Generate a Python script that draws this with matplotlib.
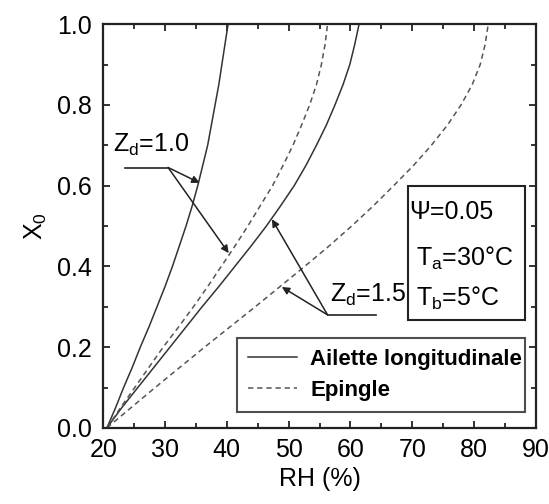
import matplotlib
matplotlib.use('Agg')
import matplotlib.pyplot as plt
from matplotlib.patches import Rectangle
from matplotlib.ticker import MultipleLocator

# data (X0 every 0.05)
X0 = [0.0, 0.05, 0.1, 0.15, 0.2, 0.25, 0.3, 0.35, 0.4, 0.45, 0.5,
      0.55, 0.6, 0.65, 0.7, 0.75, 0.8, 0.85, 0.9, 0.95, 1.0]

# Ailette longitudinale (solid)
rh_ail_z10 = [20.6, 22.0, 23.3, 24.7, 26.0, 27.4, 28.7, 30.0, 31.2, 32.3, 33.4,
              34.4, 35.3, 36.1, 36.9, 37.5, 38.1, 38.7, 39.2, 39.7, 40.2]
rh_ail_z15 = [20.6, 23.0, 25.6, 28.2, 30.8, 33.4, 36.0, 38.7, 41.3, 43.9, 46.4,
              48.7, 50.9, 52.8, 54.5, 56.1, 57.5, 58.8, 59.9, 60.7, 61.4]

# Epingle (dashed)
rh_epi_z10 = [20.6, 22.8, 25.1, 27.4, 29.7, 32.2, 34.6, 36.9, 39.1, 41.3, 43.4,
              45.4, 47.4, 49.1, 50.7, 52.1, 53.4, 54.5, 55.3, 55.9, 56.3]
rh_epi_z15 = [20.6, 24.5, 28.4, 32.4, 36.4, 40.5, 44.6, 48.6, 52.6, 56.5, 60.2,
              63.7, 67.0, 70.2, 73.1, 75.7, 77.9, 79.7, 81.0, 81.8, 82.3]

# annotations
z10_label = r'Z$_{\rm d}$=1.0'
z10_elbow = (30.5, 0.645)
z10_start = (23.6, 0.645)
z10_targets = [(35.6, 0.607), (40.3, 0.433)]

z15_label = r'Z$_{\rm d}$=1.5'
z15_elbow = (56.3, 0.28)
z15_end = (64.2, 0.28)
z15_targets = [(47.3, 0.517), (48.9, 0.349)]

params = ['\u03a8=0.05', r'T$_{\rm a}$=30°C', r'T$_{\rm b}$=5°C']

plt.rcParams['font.family'] = ['Liberation Sans', 'DejaVu Sans']
plt.rcParams['mathtext.fontset'] = 'custom'
plt.rcParams['mathtext.rm'] = 'Liberation Sans'
plt.rcParams['mathtext.it'] = 'Liberation Sans:italic'

fig = plt.figure(figsize=(5.49, 5.04), dpi=100)
ax = fig.add_axes([0.188, 0.151, 0.788, 0.801])

ax.plot(rh_ail_z10, X0, '-', color='#333333', lw=1.1)
ax.plot(rh_ail_z15, X0, '-', color='#333333', lw=1.1, label='Ailette longitudinale')
ax.plot(rh_epi_z10, X0, '--', color='#555555', lw=1.1, dashes=(3.5, 2.5))
ax.plot(rh_epi_z15, X0, '--', color='#555555', lw=1.1, dashes=(3.5, 2.5), label='Epingle')

# Zd = 1.0 callout
ax.plot([z10_start[0], z10_elbow[0]], [z10_start[1], z10_elbow[1]], color='#222222', lw=1.2)
for t in z10_targets:
    ax.annotate('', xy=t, xytext=z10_elbow,
                arrowprops=dict(arrowstyle='-|>', mutation_scale=11, lw=1.1,
                                color='#222222', shrinkA=0, shrinkB=0))
ax.text(21.6, 0.70, z10_label, fontsize=18, va='center', ha='left')

# Zd = 1.5 callout
ax.plot([z15_elbow[0], z15_end[0]], [z15_elbow[1], z15_end[1]], color='#222222', lw=1.2)
for t in z15_targets:
    ax.annotate('', xy=t, xytext=z15_elbow,
                arrowprops=dict(arrowstyle='-|>', mutation_scale=11, lw=1.1,
                                color='#222222', shrinkA=0, shrinkB=0))
ax.text(56.7, 0.33, z15_label, fontsize=18, va='center', ha='left')

# parameter box
ax.add_patch(Rectangle((69.3, 0.267), 19.0, 0.333, fill=False, lw=1.5,
                       edgecolor='#222222', zorder=3))
ax.text(69.6, 0.535, params[0], fontsize=18, va='center', ha='left')
ax.text(70.6, 0.42, params[1], fontsize=18, va='center', ha='left')
ax.text(70.6, 0.32, params[2], fontsize=18, va='center', ha='left')

leg = ax.legend(loc='center', bbox_to_anchor=(0.309, 0.035, 0.667, 0.193),
                mode='expand', frameon=True, fancybox=False, edgecolor='#222222',
                prop={'weight': 'bold', 'size': 16}, handlelength=2.2,
                handletextpad=0.6, labelspacing=0.45, borderpad=0.5,
                borderaxespad=0)
leg.get_frame().set_linewidth(1.5)

ax.set_xlim(20, 90)
ax.set_ylim(0, 1.0)
ax.xaxis.set_major_locator(MultipleLocator(10))
ax.xaxis.set_minor_locator(MultipleLocator(5))
ax.yaxis.set_major_locator(MultipleLocator(0.2))
ax.yaxis.set_minor_locator(MultipleLocator(0.1))
ax.tick_params(which='both', direction='in', top=True, right=True,
               labelsize=18, width=1.3, color='#222222')
ax.tick_params(which='major', length=5)
ax.tick_params(which='minor', length=3.5)
ax.tick_params(axis='x', pad=7)
ax.tick_params(axis='y', pad=8)
ax.set_yticklabels(['%.1f' % v for v in ax.get_yticks()])
for s in ax.spines.values():
    s.set_linewidth(1.6)
    s.set_color('#222222')

ax.set_xlabel('RH (%)', fontsize=18, labelpad=4)
ax.set_ylabel(r'X$_0$', fontsize=18, labelpad=6)

fig.savefig('out.png', dpi=100)
